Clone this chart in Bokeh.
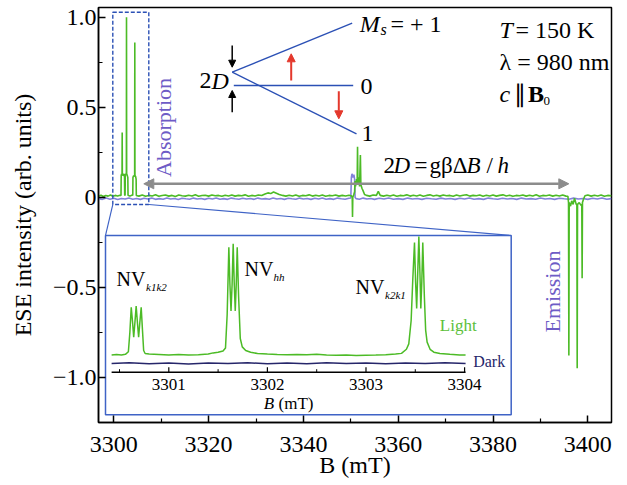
import math
from bokeh.plotting import figure
from bokeh.models import Range1d, FixedTicker, Arrow, NormalHead, Label
from bokeh.embed import file_html
from bokeh.resources import INLINE
from bokeh.core.properties import value

# ---------------- data ----------------
# main spectrum, light-on trace: (B in mT, ESE intensity)
light_points = [
    (3296.8, 0.007), (3297.3, 0.011), (3297.8, 0.004), (3298.3, 0.010), (3298.8, 0.006),
    (3299.3, 0.012), (3299.8, 0.005), (3300.3, 0.010), (3300.8, 0.007), (3301.3, 0.011),
    (3301.52, 0.010), (3301.56, 0.12), (3301.64, 0.13), (3301.74, 0.125), (3301.77, 0.36),
    (3301.80, 0.13), (3301.95, 0.12), (3302.15, 0.13), (3302.26, 0.11), (3302.30, 0.012),
    (3302.38, 0.010), (3302.42, 0.12), (3302.55, 0.13), (3302.65, 0.125), (3302.68, 1.0),
    (3302.71, 0.13), (3302.85, 0.12), (3302.96, 0.11), (3303.0, 0.011),
    (3303.4, 0.006), (3303.9, 0.012),
    (3304.0, 0.010), (3304.04, 0.11), (3304.2, 0.12), (3304.40, 0.115), (3304.43, 0.86),
    (3304.46, 0.12), (3304.6, 0.115), (3304.71, 0.10), (3304.75, 0.010),
    (3305.3, 0.006), (3306.0, 0.012), (3306.7, 0.005), (3307.4, 0.010), (3308.1, 0.007),
    (3308.8, 0.013), (3309.5, 0.005), (3310.2, 0.009), (3310.9, 0.012), (3311.6, 0.006),
    (3312.3, 0.010), (3313.0, 0.004), (3313.7, 0.012), (3314.4, 0.008), (3315.1, 0.006),
    (3315.8, 0.011), (3316.5, 0.007), (3317.2, 0.013), (3317.9, 0.005), (3318.6, 0.009),
    (3319.3, 0.011), (3320.0, 0.006), (3320.7, 0.012), (3321.4, 0.008), (3322.1, 0.010),
    (3322.8, 0.005), (3323.5, 0.011), (3324.2, 0.007), (3324.9, 0.012), (3325.6, 0.006),
    (3326.3, 0.010), (3327.0, 0.008), (3327.7, 0.013), (3328.4, 0.005), (3329.1, 0.010),
    (3329.8, 0.007), (3330.5, 0.012), (3331.2, 0.009), (3331.9, 0.018), (3332.5, 0.024),
    (3333.1, 0.020), (3333.7, 0.029), (3334.3, 0.022), (3334.9, 0.015), (3335.6, 0.010),
    (3336.3, 0.006), (3337.0, 0.011), (3337.7, 0.007), (3338.4, 0.012), (3339.1, 0.005),
    (3339.8, 0.010), (3340.5, 0.008), (3341.2, 0.013), (3341.9, 0.006), (3342.6, 0.011),
    (3343.3, 0.007), (3344.0, 0.012), (3344.7, 0.005), (3345.4, 0.010), (3346.1, 0.008),
    (3346.8, 0.012), (3347.5, 0.006), (3348.2, 0.010), (3348.9, 0.007), (3349.6, 0.011),
    (3350.1, 0.008), (3350.3, 0.0), (3350.36, -0.11), (3350.42, 0.0), (3350.6, 0.012),
    (3350.8, 0.03), (3350.9, 0.09), (3351.0, 0.06), (3351.2, 0.10), (3351.34, 0.07),
    (3351.42, 0.28), (3351.5, 0.07), (3351.7, 0.11), (3351.85, 0.06), (3352.02, 0.235),
    (3352.12, 0.07), (3352.35, 0.05), (3352.6, 0.035), (3352.9, 0.015), (3353.3, 0.010),
    (3354.0, 0.006), (3354.7, 0.012), (3355.4, 0.010), (3355.8, 0.032), (3356.2, 0.010),
    (3356.9, 0.006), (3357.6, 0.011), (3358.3, 0.007), (3359.0, 0.012), (3359.7, 0.005),
    (3360.4, 0.010), (3361.1, 0.008), (3361.8, 0.013), (3362.5, 0.006), (3363.2, 0.011),
    (3363.9, 0.007), (3364.6, 0.012), (3365.3, 0.005), (3366.0, 0.010), (3366.7, 0.013),
    (3367.4, 0.007), (3368.1, 0.011), (3368.8, 0.006), (3369.5, 0.012), (3370.2, 0.008),
    (3370.9, 0.010), (3371.6, 0.005), (3372.3, 0.012), (3373.0, 0.007), (3373.7, 0.011),
    (3374.4, 0.014), (3375.1, 0.006), (3375.8, 0.010), (3376.5, 0.008), (3377.2, 0.012),
    (3377.9, 0.005), (3378.6, 0.011), (3379.3, 0.007), (3380.0, 0.012), (3380.7, 0.006),
    (3381.4, 0.010), (3382.1, 0.013), (3382.8, 0.007), (3383.5, 0.011), (3384.2, 0.005),
    (3384.9, 0.010), (3385.6, 0.008), (3386.3, 0.012), (3387.0, 0.006), (3387.7, 0.011),
    (3388.4, 0.007), (3389.1, 0.013), (3389.8, 0.005), (3390.5, 0.010), (3391.2, 0.008),
    (3391.9, 0.012), (3392.6, 0.006), (3393.3, 0.011), (3394.0, 0.007), (3394.7, 0.012),
    (3395.4, 0.006),
    (3395.8, 0.005), (3395.93, -0.03), (3396.0, -0.88), (3396.07, -0.03), (3396.35, -0.05),
    (3396.6, -0.02), (3396.9, -0.04), (3397.2, -0.005), (3397.55, -0.04), (3397.69, -0.04),
    (3397.76, -0.95), (3397.83, -0.04), (3398.2, -0.03), (3398.55, -0.045), (3398.73, -0.04),
    (3398.8, -0.45), (3398.87, -0.03), (3399.1, -0.01), (3399.4, 0.008),
    (3400.0, 0.012), (3400.7, 0.006), (3401.4, 0.011), (3402.1, 0.007), (3402.8, 0.012),
    (3403.5, 0.005), (3404.2, 0.010), (3405.0, 0.008),
]

# main spectrum, dark trace
dark_points = [
    (3296.8, -0.008), (3297.6, -0.012), (3298.4, -0.005), (3299.2, -0.011), (3300.0, -0.006),
    (3300.8, -0.013), (3301.6, -0.007), (3302.4, -0.010), (3303.2, -0.004), (3304.0, -0.011),
    (3304.8, -0.007), (3305.6, -0.012), (3306.4, -0.006), (3307.2, -0.010), (3308.0, -0.005),
    (3308.8, -0.012), (3309.6, -0.008), (3310.4, -0.011), (3311.2, -0.004), (3312.0, -0.010),
    (3312.8, -0.007), (3313.6, -0.013), (3314.4, -0.006), (3315.2, -0.009), (3316.0, -0.011),
    (3316.8, -0.005), (3317.6, -0.010), (3318.4, -0.007), (3319.2, -0.012), (3320.0, -0.006),
    (3320.8, -0.010), (3321.6, -0.004), (3322.4, -0.011), (3323.2, -0.008), (3324.0, -0.012),
    (3324.8, -0.005), (3325.6, -0.009), (3326.4, -0.011), (3327.2, -0.006), (3328.0, -0.010),
    (3328.8, -0.007), (3329.6, -0.012), (3330.4, -0.005), (3331.2, -0.010), (3332.0, -0.008),
    (3332.8, -0.011), (3333.6, -0.004), (3334.4, -0.010), (3335.2, -0.007), (3336.0, -0.012),
    (3336.8, -0.006), (3337.6, -0.009), (3338.4, -0.011), (3339.2, -0.005), (3340.0, -0.010),
    (3340.8, -0.007), (3341.6, -0.012), (3342.4, -0.006), (3343.2, -0.010), (3344.0, -0.004),
    (3344.8, -0.011), (3345.6, -0.008), (3346.4, -0.012), (3347.2, -0.005), (3348.0, -0.009),
    (3348.8, -0.011), (3349.6, -0.006),
    (3350.0, -0.004), (3350.12, 0.11), (3350.25, 0.13), (3350.45, 0.11), (3350.65, 0.125),
    (3350.8, 0.10), (3350.9, 0.0), (3351.1, -0.008),
    (3351.8, -0.011), (3352.6, -0.005), (3353.4, -0.010), (3354.2, -0.007), (3355.0, -0.012),
    (3356.0, -0.006), (3357.0, -0.010), (3358.0, -0.004), (3359.0, -0.011), (3360.0, -0.008),
    (3361.0, -0.012), (3362.0, -0.005), (3363.0, -0.010), (3364.0, -0.007), (3365.0, -0.012),
    (3366.0, -0.006), (3367.0, -0.009), (3368.0, -0.011), (3369.0, -0.005), (3370.0, -0.010),
    (3371.0, -0.007), (3372.0, -0.012), (3373.0, -0.006), (3374.0, -0.010), (3375.0, -0.004),
    (3376.0, -0.011), (3377.0, -0.008), (3378.0, -0.012), (3379.0, -0.005), (3380.0, -0.009),
    (3381.0, -0.011), (3382.0, -0.006), (3383.0, -0.010), (3384.0, -0.007), (3385.0, -0.012),
    (3386.0, -0.005), (3387.0, -0.010), (3388.0, -0.008), (3389.0, -0.011), (3390.0, -0.004),
    (3391.0, -0.010), (3392.0, -0.007), (3393.0, -0.012), (3394.0, -0.006), (3395.0, -0.009),
    (3396.0, -0.011), (3397.0, -0.005), (3398.0, -0.010), (3399.0, -0.007), (3400.0, -0.012),
    (3401.0, -0.006), (3402.0, -0.010), (3403.0, -0.004), (3404.0, -0.011), (3405.0, -0.008),
]

# inset (zoom of absorption lines), light trace
inset_light_points = [
    (3300.42, 0.012), (3300.47, 0.016), (3300.52, 0.012), (3300.56, 0.018), (3300.59, 0.04),
    (3300.605, 0.2), (3300.619, 0.41), (3300.633, 0.28), (3300.644, 0.16), (3300.656, 0.28),
    (3300.669, 0.42), (3300.682, 0.28), (3300.694, 0.16), (3300.706, 0.28), (3300.720, 0.41),
    (3300.733, 0.22), (3300.745, 0.05), (3300.76, 0.025), (3300.8, 0.02), (3300.9, 0.017),
    (3301.0, 0.013), (3301.1, 0.016), (3301.2, 0.012), (3301.3, 0.015), (3301.4, 0.02),
    (3301.45, 0.03), (3301.5, 0.035), (3301.55, 0.045), (3301.575, 0.07), (3301.592, 0.35),
    (3301.609, 0.91), (3301.620, 0.6), (3301.631, 0.38), (3301.642, 0.6), (3301.653, 0.94),
    (3301.664, 0.6), (3301.674, 0.38), (3301.684, 0.6), (3301.694, 0.91), (3301.708, 0.5),
    (3301.725, 0.15), (3301.745, 0.08), (3301.78, 0.05), (3301.83, 0.035), (3301.9, 0.025),
    (3302.0, 0.02), (3302.1, 0.016), (3302.2, 0.014), (3302.3, 0.017), (3302.4, 0.015),
    (3302.5, 0.018), (3302.6, 0.013), (3302.7, 0.011), (3302.8, 0.012), (3302.9, 0.009),
    (3303.0, 0.011), (3303.1, 0.012), (3303.2, 0.015), (3303.3, 0.02), (3303.36, 0.026),
    (3303.41, 0.06), (3303.434, 0.105), (3303.458, 0.3), (3303.475, 0.65), (3303.492, 0.95),
    (3303.503, 0.62), (3303.514, 0.40), (3303.525, 0.7), (3303.536, 1.0), (3303.547, 0.7),
    (3303.556, 0.40), (3303.566, 0.62), (3303.576, 0.95), (3303.592, 0.5), (3303.605, 0.22),
    (3303.62, 0.12), (3303.65, 0.06), (3303.688, 0.036), (3303.75, 0.025), (3303.85, 0.018),
    (3303.95, 0.013), (3304.01, 0.012),
]

# inset, dark trace
inset_dark_points = [
    (3300.42, -0.058), (3300.6, -0.052), (3300.8, -0.060), (3301.0, -0.055), (3301.2, -0.062),
    (3301.4, -0.054), (3301.6, -0.058), (3301.8, -0.052), (3302.0, -0.060), (3302.2, -0.055),
    (3302.4, -0.061), (3302.6, -0.053), (3302.8, -0.058), (3303.0, -0.054), (3303.2, -0.060),
    (3303.4, -0.055), (3303.6, -0.059), (3303.8, -0.053), (3304.01, -0.058),
]

x_ticks = [3300, 3320, 3340, 3360, 3380, 3400]
x_minor_ticks = [3310, 3330, 3350, 3370, 3390]
y_ticks = [-1.0, -0.5, 0.0, 0.5, 1.0]
y_tick_labels = ["\u22121.0", "\u22120.5", "0", "0.5", "1.0"]
y_minor_ticks = [-0.75, -0.25, 0.25, 0.75]
inset_ticks = [3301, 3302, 3303, 3304]
inset_tick_labels = ["3301", "3302", "3303", "3304"]
inset_minor_ticks = [3300.5, 3301.5, 3302.5, 3303.5]
inset_axis_span = [3300.42, 3304.01]

light_b = [b for b, _ in light_points]
light_i = [v for _, v in light_points]
dark_b = [b for b, _ in dark_points]
dark_i = [v for _, v in dark_points]
inset_light_b = [b for b, _ in inset_light_points]
inset_light_i = [v for _, v in inset_light_points]
inset_dark_b = [b for b, _ in inset_dark_points]
inset_dark_i = [v for _, v in inset_dark_points]

# ---------------- layout / style ----------------
FONT = "Liberation Serif"
GREEN = "#4cbb26"
DARK_MAIN = "#7474d6"
NAVY = "#26266a"
BLUE = "#2b50b5"
BOX_BLUE = "#3f63c6"
RED = "#e4382c"
GRAY = "#8c8c8c"
PURPLE = "#6e5cc6"

FR_L, FR_T, FR_W, FR_H = 98, 7, 513, 415
X_RANGE = (3296.772, 3404.996)
Y_RANGE = (-1.2517, 1.0539)
INSET_X_RANGE = (3300.287, 3305.490)
INSET_Y_RANGE = (-0.55, 2.908)


def dx(px):
    return X_RANGE[0] + (px - FR_L) * (X_RANGE[1] - X_RANGE[0]) / FR_W


def dy(py):
    return Y_RANGE[1] - (py - FR_T) * (Y_RANGE[1] - Y_RANGE[0]) / FR_H


def iy(py):
    return INSET_Y_RANGE[1] - (py - FR_T) * (INSET_Y_RANGE[1] - INSET_Y_RANGE[0]) / FR_H


p = figure(width=620, height=484,
           x_range=Range1d(*X_RANGE), y_range=Range1d(*Y_RANGE),
           output_backend="svg", toolbar_location=None,
           min_border_left=FR_L, min_border_right=620 - FR_L - FR_W,
           min_border_top=FR_T, min_border_bottom=484 - FR_T - FR_H)
p.extra_x_ranges = {"ix": Range1d(*INSET_X_RANGE)}
p.extra_y_ranges = {"iy": Range1d(*INSET_Y_RANGE)}
p.grid.visible = False
p.outline_line_color = "black"
p.outline_line_width = 1.5
p.outline_line_alpha = 1.0
p.background_fill_color = "white"
p.border_fill_color = "white"

p.xaxis.ticker = FixedTicker(ticks=x_ticks, minor_ticks=x_minor_ticks)
p.yaxis.ticker = FixedTicker(ticks=y_ticks, minor_ticks=y_minor_ticks)
p.yaxis.major_label_overrides = {t: s for t, s in zip(y_ticks, y_tick_labels)}
for ax in (p.xaxis[0], p.yaxis[0]):
    ax.axis_line_color = "black"
    ax.axis_line_width = 1.5
    ax.major_tick_in = 7
    ax.major_tick_out = 0
    ax.minor_tick_in = 4
    ax.minor_tick_out = 0
    ax.major_tick_line_color = "black"
    ax.minor_tick_line_color = "black"
    ax.major_tick_line_width = 1.5
    ax.minor_tick_line_width = 1.2
    ax.major_label_text_font = FONT
    ax.major_label_text_font_size = "24px"
    ax.major_label_text_color = "black"
    ax.axis_label_text_font = FONT
    ax.axis_label_text_font_size = "24px"
    ax.axis_label_text_font_style = "normal"
    ax.axis_label_text_color = "black"
p.xaxis.axis_label = "B (mT)"
p.yaxis.axis_label = "ESE intensity (arb. units)"
p.xaxis.major_label_standoff = 14
p.xaxis.axis_label_standoff = -3
p.yaxis.major_label_standoff = 2
p.yaxis.axis_label_standoff = 14

# main traces
p.line(dark_b, dark_i, line_color=DARK_MAIN, line_width=1.6, line_alpha=0.9)
p.line(light_b, light_i, line_color=GREEN, line_width=1.6)

# dashed selection box and connectors
p.quad(left=dx(112.3), right=dx(148.3), top=dy(11.7), bottom=dy(204),
       fill_alpha=0, line_color=BLUE, line_width=1.4, line_dash="4 2")
p.line([dx(112.3), dx(105)], [dy(204), dy(235)], line_color=BOX_BLUE, line_width=1.1)
p.line([dx(148.3), dx(510.7)], [dy(204), dy(235)], line_color=BOX_BLUE, line_width=1.1)

# inset frame
p.quad(left=dx(105), right=dx(510.7), top=dy(235), bottom=dy(414.3),
       fill_color="white", line_color=BOX_BLUE, line_width=1.5)

# inset traces
p.line(inset_dark_b, inset_dark_i, line_color=NAVY, line_width=1.5,
       x_range_name="ix", y_range_name="iy")
p.line(inset_light_b, inset_light_i, line_color=GREEN, line_width=1.5,
       x_range_name="ix", y_range_name="iy")

# inset axis
ax_y = iy(371.7)
p.line(inset_axis_span, [ax_y, ax_y], line_color="black", line_width=1.5,
       x_range_name="ix", y_range_name="iy")
p.segment(x0=inset_ticks, y0=[ax_y] * len(inset_ticks), x1=inset_ticks,
          y1=[iy(366.7)] * len(inset_ticks), line_color="black", line_width=1.2,
          x_range_name="ix", y_range_name="iy")
p.segment(x0=inset_minor_ticks, y0=[ax_y] * len(inset_minor_ticks), x1=inset_minor_ticks,
          y1=[iy(368.7)] * len(inset_minor_ticks), line_color="black", line_width=1.0,
          x_range_name="ix", y_range_name="iy")
p.text(x=inset_ticks, y=[iy(383.5)] * len(inset_ticks), text=inset_tick_labels,
       text_font=value(FONT), text_font_size="17px", text_align="center",
       text_baseline="middle", text_color="black", x_range_name="ix", y_range_name="iy")


def label(px, py, s, size, style="normal", color="black", align="left", angle=0.0):
    p.add_layout(Label(x=dx(px), y=dy(py), text=s, text_font=FONT,
                       text_font_size=f"{size}px", text_font_style=style,
                       text_color=color, text_align=align, text_baseline="middle",
                       angle=angle))


def arrow(x0, y0, x1, y1, color, width, size, both=False):
    head = dict(size=size, fill_color=color, line_color=color, line_width=1)
    p.add_layout(Arrow(x_start=dx(x0), y_start=dy(y0), x_end=dx(x1), y_end=dy(y1),
                       line_color=color, line_width=width,
                       end=NormalHead(**head),
                       start=NormalHead(**head) if both else None))


# inset texts
label(263.3, 403, "B", 17, "italic")
label(278, 403, "(mT)", 17)
label(116, 278.3, "NV", 20)
label(145.5, 286, "k1k2", 11, "italic")
label(244, 268.3, "NV", 20)
label(273, 276, "hh", 11, "italic")
label(355, 286.7, "NV", 20)
label(384.5, 294, "k2k1", 11, "italic")
label(439.3, 325, "Light", 17, color="#5cc03a")
label(472.7, 360.7, "Dark", 16, color=NAVY)

# energy-level diagram
vx, vy_ = 231.7, 71.7
p.line([dx(vx), dx(351.7)], [dy(vy_), dy(22.7)], line_color=BLUE, line_width=1.4)
p.line([dx(vx), dx(356)], [dy(vy_), dy(133.3)], line_color=BLUE, line_width=1.4)
p.line([dx(233.3), dx(352.7)], [dy(85), dy(85)], line_color=BLUE, line_width=1.4)
arrow(231.7, 45, 231.7, 66.7, "black", 1.5, 7)
arrow(231.7, 111.7, 231.7, 90, "black", 1.5, 7)
arrow(290.7, 80, 290.7, 53.3, RED, 2, 8)
arrow(338.3, 90.7, 338.3, 118.3, RED, 2, 8)
label(211, 80, "2", 24, align="right")
label(228.3, 80, "D", 24, "italic", align="right")
label(359.3, 23.3, "M", 24, "italic")
label(380, 29, "s", 16, "italic")
label(390, 23.3, "= + 1", 24)
label(360, 86, "0", 24)
label(361, 133.3, "1", 24)

# conditions
label(499, 29.3, "T", 24, "italic")
label(515, 29.3, "= 150 K", 24)
label(499, 61.7, "\u03bb = 980 nm", 24)
label(499, 93.3, "c", 24, "italic")
label(513, 93.3, "\u2225", 24)
label(527.5, 93.3, "B", 24, "bold")
label(543, 100, "0", 13)

# 2D = g beta Delta B / h with double arrow
arrow(143.3, 183.3, 568.3, 183.3, GRAY, 2.5, 10, both=True)
label(383, 165, "2", 23)
label(393, 165, "D", 23, "italic")
label(414, 165, "=", 23)
label(429, 165, "g\u03b2\u0394", 23)
label(466, 165, "B", 23, "italic")
label(486, 165, "/", 23)
label(497, 165, "h", 23, "italic")

# rotated labels
label(163.3, 127, "Absorption", 22, color=PURPLE, align="center", angle=math.pi / 2)
label(551.5, 291, "Emission", 22, color=PURPLE, align="center", angle=math.pi / 2)

open("out.html", "w").write(file_html(p, INLINE))
